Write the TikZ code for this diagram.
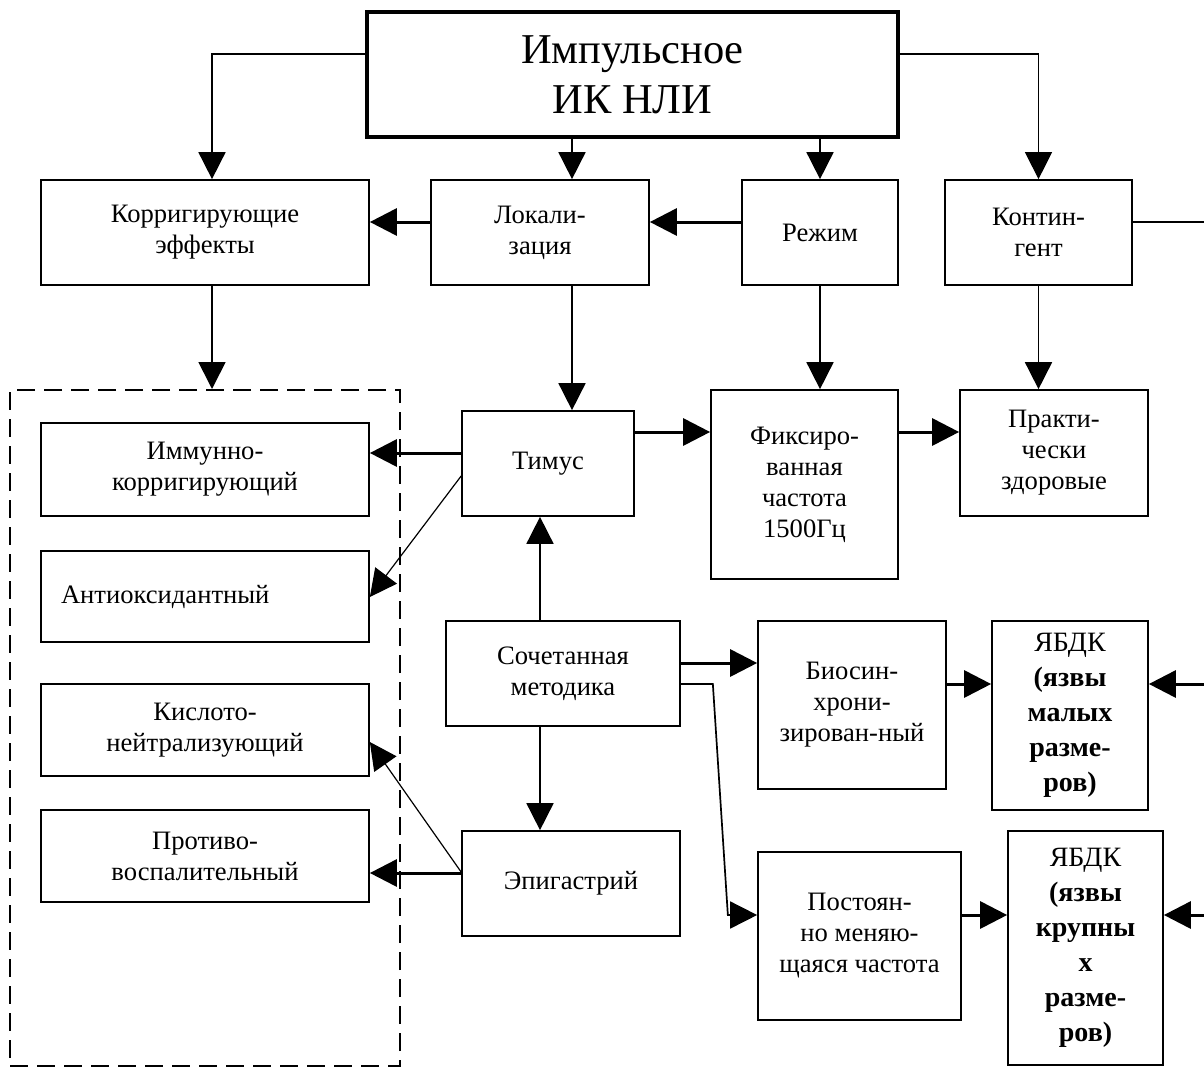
\documentclass[tikz,border=0pt]{standalone}
\usepackage{fontspec}
\setmainfont{Liberation Serif}
\usetikzlibrary{arrows.meta, positioning}

\begin{document}
\begin{tikzpicture}[
  x=1pt, y=-1pt,
  box/.style={draw, line width=1.7pt, align=center, inner sep=2pt,
              font=\fontsize{26.6}{31}\selectfont},
  leftbox/.style={box, align=left, inner xsep=20pt, text width=288pt},
  ulcer/.style={box, font=\fontsize{28}{35}\selectfont},
  topbox/.style={draw, line width=4.5pt, align=center,
                 font=\fontsize{42.5}{50}\selectfont},
  group/.style={draw, dash pattern=on 18pt off 9pt, line width=2pt},
  arrow/.style={-{Triangle[length=27pt, width=27pt]}, line width=1.7pt},
  heavy/.style={arrow, line width=3pt},
  slim/.style={arrow, line width=1.2pt}
]
\useasboundingbox (0,0) rectangle (1204,1068);

% upper row
\node[topbox, minimum width=531pt, minimum height=125pt] (main) at (632.5,74.5)
      {Импульсное\\ИК НЛИ};
\node[box, minimum width=328pt, minimum height=105pt] (korr) at (205,232.5)
      {Корригирующие\\эффекты};
\node[box, minimum width=218pt, minimum height=105pt] (lok) at (540,232.5)
      {Локали-\\зация};
\node[box, minimum width=156pt, minimum height=105pt] (rezhim) at (820,232.5)
      {Режим};
\node[box, minimum width=187pt, minimum height=105pt] (kont) at (1038.5,232.5)
      {Контин-\\гент};

% effects (dashed group)
\node[group, minimum width=390pt, minimum height=676pt] (effects) at (205,728) {};
\node[box, minimum width=328pt, minimum height=93pt] (imm) at (205,469.5)
      {Иммунно-\\корригирующий};
\node[leftbox, minimum height=91pt] (antiox) at (205,596.5)
      {Антиоксидантный};
\node[box, minimum width=328pt, minimum height=92pt] (kislo) at (205,730)
      {Кислото-\\нейтрализующий};
\node[box, minimum width=328pt, minimum height=92pt] (protiv) at (205,856)
      {Противо-\\воспалительный};

% middle
\node[box, minimum width=172pt, minimum height=105pt] (timus) at (548,463.5)
      {Тимус};
\node[box, minimum width=187pt, minimum height=189pt] (fix) at (804.5,484.5)
      {Фиксиро-\\ванная\\частота\\1500Гц};
\node[box, minimum width=188pt, minimum height=126pt] (prakt) at (1054,453)
      {Практи-\\чески\\здоровые};
\node[box, minimum width=234pt, minimum height=105pt] (sochet) at (563,673.5)
      {Сочетанная\\методика};
\node[box, minimum width=218pt, minimum height=105pt] (epig) at (571,883.5)
      {Эпигастрий};
\node[box, minimum width=188pt, minimum height=168pt] (biosin) at (852,705)
      {Биосин-\\хрони-\\зирован-ный};
\node[box, minimum width=203pt, minimum height=168pt] (postoyan) at (859.5,936)
      {Постоян-\\но меняю-\\щаяся частота};
\node[ulcer, minimum width=156pt, minimum height=189pt] (yabdk1) at (1070,715.5)
      {ЯБДК\\\textbf{(язвы}\\\textbf{малых}\\\textbf{разме-}\\\textbf{ров)}};
\node[ulcer, minimum width=155pt, minimum height=234pt] (yabdk2) at (1085.5,948)
      {ЯБДК\\\textbf{(язвы}\\\textbf{крупны}\\\textbf{х}\\\textbf{разме-}\\\textbf{ров)}};

\coordinate (edgeA) at (1204,222);
\coordinate (edgeB) at (1204,684);
\coordinate (edgeC) at (1204,915);

% from the title box
\draw[arrow] ([yshift=20.5pt]main.west) -| ([xshift=7pt]korr.north);
\draw[arrow] ([xshift=-60.5pt]main.south) -- ([xshift=32pt]lok.north);
\draw[arrow] ([xshift=187.5pt]main.south) -- (rezhim.north);
\draw[slim]  ([yshift=20.5pt]main.east) -| (kont.north);

% upper row links
\draw[heavy] ([yshift=10.5pt]rezhim.west) -- ([yshift=10.5pt]lok.east);
\draw[heavy] ([yshift=10.5pt]lok.west) -- ([yshift=10.5pt]korr.east);
\draw[arrow] ([xshift=7pt]korr.south) -- ([xshift=7pt]effects.north);
\draw[arrow] ([xshift=32pt]lok.south) -- ([xshift=24pt]timus.north);
\draw[arrow] (rezhim.south) -- ([xshift=15.5pt]fix.north);
\draw[arrow] (kont.south) -- ([xshift=-15.5pt]prakt.north);
\draw[line width=1.2pt] ([yshift=10.5pt]kont.east) -- (edgeA);

% Timus
\draw[heavy] ([yshift=31.5pt]timus.east) -- ([yshift=52.5pt]fix.west);
\draw[heavy] ([yshift=52.5pt]fix.east) -- ([yshift=21pt]prakt.west);
\draw[heavy] ([yshift=10.5pt]timus.west) -- ([yshift=16.5pt]imm.east);
\draw[slim]  ([yshift=-12.5pt]timus.west) -- ([yshift=-0.5pt]antiox.east);

% combined method
\draw[arrow] ([xshift=-23pt]sochet.north) -- ([xshift=-8pt]timus.south);
\draw[arrow] ([xshift=-23pt]sochet.south) -- ([xshift=-31pt]epig.north);
\draw[heavy] ([yshift=10.5pt]sochet.east) -- ([yshift=42pt]biosin.west);
\draw[arrow] ([yshift=-10.5pt]sochet.east) -- ++(32,0) -- ++(15,231)
             -- ([yshift=21pt]postoyan.west);
\draw[heavy] ([yshift=21pt]biosin.east) -- ([yshift=31.5pt]yabdk1.west);
\draw[heavy] (edgeB) -- ([yshift=31.5pt]yabdk1.east);
\draw[heavy] ([yshift=21pt]postoyan.east) -- ([yshift=33pt]yabdk2.west);
\draw[heavy] (edgeC) -- ([yshift=33pt]yabdk2.east);

% Epigastrium
\draw[heavy] ([yshift=10.5pt]epig.west) -- ([yshift=-17pt]protiv.east);
\draw[slim]  ([yshift=11.5pt]epig.west) -- ([yshift=-12pt]kislo.east);
\end{tikzpicture}
\end{document}
